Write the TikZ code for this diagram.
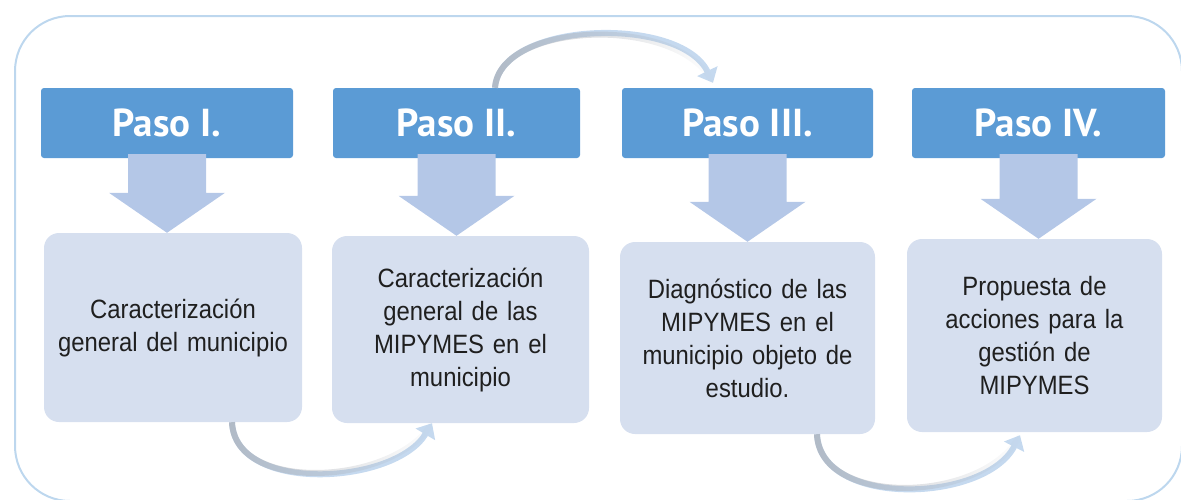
\documentclass[tikz,border=0pt]{standalone}
\usepackage{fontspec}
\setmainfont[FakeStretch=0.9]{Liberation Sans}
\newfontfamily\headfont{PT Sans}
\usetikzlibrary{arrows.meta,calc,fadings}
\definecolor{hdrblue}{HTML}{5B9BD5}
\definecolor{boxblue}{HTML}{D6DFEF}
\definecolor{arrblue}{HTML}{B4C7E7}
\definecolor{framecol}{HTML}{BDD7EE}
\definecolor{ribbon}{HTML}{C5D9EF}
\definecolor{ribbongray}{HTML}{A9AEB6}
\definecolor{txt}{HTML}{1F1F1F}
\tikzfading[name=fadeRight, left color=transparent!0, middle color=transparent!100, right color=transparent!100]
\tikzset{
  hdr/.style={fill=hdrblue, rounded corners=3pt, minimum height=70pt, inner sep=0pt,
    text=white, font=\headfont\bfseries\fontsize{39}{44}\selectfont},
  stepbox/.style={fill=boxblue, rounded corners=15pt, inner sep=0pt, align=center,
    text width=245pt, text=txt, font=\fontsize{26.5}{33}\selectfont},
  arrfill/.style={fill=arrblue},
  curvearr/.style={draw=ribbon, line width=6pt, -{Triangle[length=13pt,width=22pt]}},
  curvegray/.style={draw=ribbongray, line width=6pt, path fading=fadeRight, opacity=0.7},
  outerframe/.style={draw=framecol, line width=2pt, rounded corners=55pt}
}
\newcommand\blockarrow[2]{%
  \fill[arrfill] let \p1=(#1.south), \p2=(#2.north) in
    (\x1-39pt,\y1+4pt) -- (\x1+39pt,\y1+4pt) -- (\x1+39pt,\y2+40pt) -- (\x1+58pt,\y2+40pt)
    -- (\x1,\y2) -- (\x1-58pt,\y2+40pt) -- (\x1-39pt,\y2+40pt) -- cycle;}
\begin{document}
\begin{tikzpicture}[x=1pt,y=-1pt]
\useasboundingbox (0,0) rectangle (1181,499);
\draw[outerframe] (15,16) rectangle (1182,501);

% header boxes
\node[hdr, minimum width=252pt] (h1) at (167,123) {Paso I.};
\node[hdr, minimum width=247pt] (h2) at (456.5,123) {Paso II.};
\node[hdr, minimum width=251pt] (h3) at (747.5,123) {Paso III.};
\node[hdr, minimum width=253pt] (h4) at (1038.5,123) {Paso IV.};

% content boxes
\node[stepbox, minimum width=258pt, minimum height=189pt] (b1) at (173,327.5)
  {Caracterización\\general del municipio\\[14pt]};
\node[stepbox, minimum width=257pt, minimum height=187pt] (b2) at (460.5,329.5)
  {Caracterización\\general de las\\MIPYMES en el\\municipio};
\node[stepbox, minimum width=255pt, minimum height=192pt] (b3) at (747.5,338)
  {Diagnóstico de las\\MIPYMES en el\\municipio objeto de\\estudio.};
\node[stepbox, minimum width=255pt, minimum height=193pt] (b4) at (1034.5,335.5)
  {Propuesta de\\acciones para la\\gestión de\\MIPYMES};

% block arrows
\blockarrow{h1}{b1}
\blockarrow{h2}{b2}
\blockarrow{h3}{b3}
\blockarrow{h4}{b4}

% curved arrows
\draw[curvearr] ([xshift=59pt]b1.south) .. controls +(3,72) and +(-37,62) .. ([xshift=-28.5pt]b2.south);
\draw[curvegray] ([xshift=59pt]b1.south) .. controls +(3,72) and +(-37,62) .. ([xshift=-28.5pt]b2.south);

\draw[curvearr] ([xshift=38.5pt]h2.north) .. controls +(5,-67) and +(-33,-68) .. ([xshift=-34.5pt,yshift=5pt]h3.north);
\draw[curvegray] ([xshift=38.5pt]h2.north) .. controls +(5,-67) and +(-33,-68) .. ([xshift=-34.5pt,yshift=5pt]h3.north);

\draw[curvearr] ([xshift=69.5pt]b3.south) .. controls +(3,74) and +(-35,68) .. ([xshift=-14.5pt,yshift=-3pt]b4.south);
\draw[curvegray] ([xshift=69.5pt]b3.south) .. controls +(3,74) and +(-35,68) .. ([xshift=-14.5pt,yshift=-3pt]b4.south);
\end{tikzpicture}
\end{document}
